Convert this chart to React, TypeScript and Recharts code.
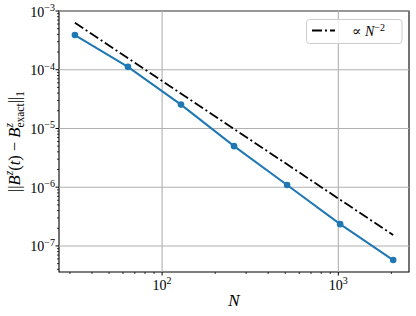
import {
  LineChart,
  Line,
  XAxis,
  YAxis,
  ReferenceLine,
  ReferenceArea,
  Legend,
} from "recharts";

// measured error vs grid size
const nValues = [32, 64, 128, 256, 512, 1024, 2048];
const errValues = [3.9e-4, 1.12e-4, 2.55e-5, 5.0e-6, 1.09e-6, 2.35e-7, 5.75e-8];

// guide line ∝ N^-2 (end points)
const refN = [32, 2048];
const refValues = [6.3e-4, 1.53e-7];

const xMajor = [100, 1000];
const xMajorExp = ["2", "3"];
const yMajor = [1e-7, 1e-6, 1e-5, 1e-4, 1e-3];
const yMajorExp = ["−7", "−6", "−5", "−4", "−3"];

const xDomain = [26, 2518];
const yDomain = [3.6e-8, 1e-3];

const xMinor: number[] = [];
for (const d of [10, 100, 1000]) {
  for (let k = 2; k <= 9; k++) {
    const v = k * d;
    if (v > xDomain[0] && v < xDomain[1]) xMinor.push(v);
  }
}
const yMinor: number[] = [];
for (const d of [1e-8, 1e-7, 1e-6, 1e-5, 1e-4]) {
  for (let k = 2; k <= 9; k++) {
    const v = k * d;
    if (v > yDomain[0] && v < yDomain[1]) yMinor.push(v);
  }
}

const errData = nValues.map((n, i) => ({ n, err: errValues[i] }));
const refData = refN.map((n, i) => ({ n, ref: refValues[i] }));

const FONT = "'Liberation Serif', 'DejaVu Serif', serif";
const BLUE = "#1f77b4";
const DASHDOT = "10 3 2 3";

function XTick(props: any) {
  const { x, y, payload } = props;
  const i = xMajor.indexOf(payload.value);
  const major = i >= 0;
  return (
    <g>
      <line
        x1={x}
        x2={x}
        y1={y}
        y2={y + (major ? 3.5 : 2)}
        stroke="#000"
        strokeWidth={major ? 1 : 0.8}
      />
      {major && (
        <text x={x} y={y + 17.5} textAnchor="middle" fontFamily={FONT} fontSize={14} fill="#000">
          10
          <tspan dy={-5.5} fontSize={10}>
            {xMajorExp[i]}
          </tspan>
        </text>
      )}
    </g>
  );
}

function YTick(props: any) {
  const { x, y, payload } = props;
  const i = yMajor.findIndex((v) => Math.abs(v - payload.value) / v < 1e-6);
  const major = i >= 0;
  return (
    <g>
      <line
        x1={x}
        x2={x - (major ? 3.5 : 2)}
        y1={y}
        y2={y}
        stroke="#000"
        strokeWidth={major ? 1 : 0.8}
      />
      {major && (
        <text x={x - 4} y={y + 5.5} textAnchor="end" fontFamily={FONT} fontSize={14} fill="#000">
          10
          <tspan dy={-5.5} fontSize={10}>
            {yMajorExp[i]}
          </tspan>
        </text>
      )}
    </g>
  );
}

function YLabel(props: any) {
  const vb = props.viewBox || { y: 11, height: 261 };
  const cx = 20;
  const cy = vb.y + vb.height / 2;
  return (
    <text
      x={cx}
      y={cy}
      transform={`rotate(-90 ${cx} ${cy})`}
      textAnchor="middle"
      fontFamily={FONT}
      fontSize={16.5}
      fill="#000"
    >
      ||<tspan fontStyle="italic">B</tspan>
      <tspan dy={-7} fontSize={11.5} fontStyle="italic">z</tspan>
      <tspan dy={7}>(</tspan>
      <tspan fontStyle="italic">t</tspan>
      <tspan>) − </tspan>
      <tspan fontStyle="italic">B</tspan>
      <tspan dy={-7} fontSize={11.5} fontStyle="italic">z</tspan>
      <tspan dx={-4.5} dy={11} fontSize={11.5}>exact</tspan>
      <tspan dy={-4}>||</tspan>
      <tspan dy={4} fontSize={11.5}>1</tspan>
    </text>
  );
}

function LegendBox() {
  return (
    <svg width={97} height={25} style={{ display: "block" }}>
      <rect
        x={0.5}
        y={0.5}
        width={95.5}
        height={24}
        rx={3}
        fill="#fff"
        fillOpacity={0.8}
        stroke="#cccccc"
        strokeWidth={1}
      />
      <line x1={6} x2={29} y1={11.5} y2={11.5} stroke="#000" strokeWidth={1.8} strokeDasharray={DASHDOT} />
      <text x={46} y={17} fontFamily={FONT} fontSize={14} fill="#000">
        ∝ <tspan fontStyle="italic">N</tspan>
        <tspan dy={-5.5} fontSize={10}>−2</tspan>
      </text>
    </svg>
  );
}

export default function App() {
  return (
    <div style={{ position: "absolute", left: 0, top: 0, width: 416, height: 316, background: "#fff" }}>
      <LineChart width={416} height={316} margin={{ top: 11, right: 7, left: 0, bottom: 0 }}>
        <XAxis
          dataKey="n"
          type="number"
          scale="log"
          domain={xDomain}
          allowDataOverflow
          ticks={[...xMinor, ...xMajor].sort((a, b) => a - b)}
          interval={0}
          tick={<XTick />}
          tickLine={false}
          tickSize={0}
          tickMargin={0}
          axisLine={false}
          height={44}
          label={{ value: "N", position: "insideBottom", offset: 10, fontFamily: FONT, fontSize: 17, fontStyle: "italic", fill: "#000" }}
        />
        <YAxis
          type="number"
          scale="log"
          domain={yDomain}
          allowDataOverflow
          ticks={[...yMinor, ...yMajor].sort((a, b) => a - b)}
          interval={0}
          tick={<YTick />}
          tickLine={false}
          tickSize={0}
          tickMargin={0}
          axisLine={false}
          width={59}
          label={<YLabel />}
        />
        {xMajor.map((v) => (
          <ReferenceLine key={`gx${v}`} x={v} stroke="#b0b0b0" strokeWidth={1.1} />
        ))}
        {yMajor.map((v) => (
          <ReferenceLine key={`gy${v}`} y={v} stroke="#b0b0b0" strokeWidth={1.1} />
        ))}
        <Line
          data={refData}
          dataKey="ref"
          stroke="#000"
          strokeWidth={1.8}
          strokeDasharray={DASHDOT}
          dot={false}
          isAnimationActive={false}
          legendType="none"
        />
        <Line
          data={errData}
          dataKey="err"
          stroke={BLUE}
          strokeWidth={2}
          dot={{ r: 3.3, fill: BLUE, stroke: BLUE, strokeWidth: 0 }}
          isAnimationActive={false}
          legendType="none"
        />
        <ReferenceArea
          x1={xDomain[0]}
          x2={xDomain[1]}
          y1={yDomain[0]}
          y2={yDomain[1]}
          fill="none"
          stroke="#000"
          strokeWidth={1.1}
          ifOverflow="visible"
        />
        <Legend
          layout="vertical"
          align="center"
          verticalAlign="middle"
          content={<LegendBox />}
          wrapperStyle={{ left: 306, top: 19, width: 97, height: 25 }}
        />
      </LineChart>
    </div>
  );
}
